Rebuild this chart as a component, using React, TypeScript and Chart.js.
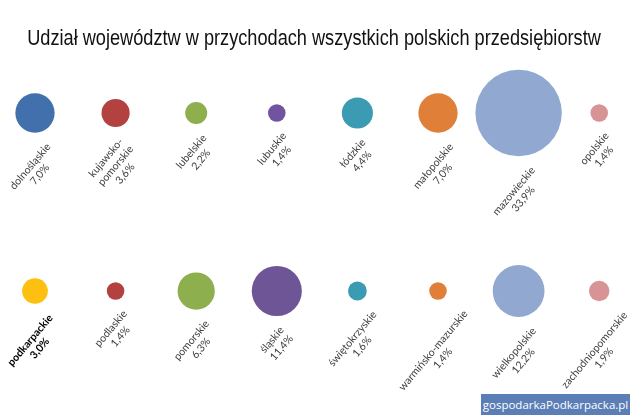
import React, { useEffect, useRef } from "react";
import { Chart, registerables } from "chart.js";

Chart.register(...registerables);

const TITLE = "Udział województw w przychodach wszystkich polskich przedsiębiorstw";

const regions: string[] = [
  "dolnośląskie",
  "kujawsko-\npomorskie",
  "lubelskie",
  "lubuskie",
  "łódzkie",
  "małopolskie",
  "mazowieckie",
  "opolskie",
  "podkarpackie",
  "podlaskie",
  "pomorskie",
  "śląskie",
  "świętokrzyskie",
  "warmińsko-mazurskie",
  "wielkopolskie",
  "zachodniopomorskie",
];

const shares: number[] = [7.0, 3.6, 2.2, 1.4, 4.4, 7.0, 33.9, 1.4, 3.0, 1.4, 6.3, 11.4, 1.6, 1.4, 12.2, 1.9];

const colors: string[] = [
  "#4170AC", "#B3413F", "#8DAF4E", "#7054A0", "#3A9BB2", "#E07F38", "#91A8D1", "#D89494",
  "#FDBF10", "#B3413F", "#8DAF4E", "#6E5596", "#3A9BB2", "#E07F38", "#91A8D1", "#D89494",
];

const highlighted = "podkarpackie";
const PER_ROW = 8;
const SIZE_K = 7.42;
const X_MIN = -0.434;
const X_MAX = 7.382;
const Y_MIN = -0.6966;
const Y_MAX = 1.3517;

const fmtShare = (v: number) => v.toFixed(1).replace(".", ",") + "%";

const titlePlugin = {
  id: "narrowTitle",
  afterDraw(chart: any) {
    const ctx = chart.ctx as CanvasRenderingContext2D;
    ctx.save();
    ctx.font = "22px 'Liberation Sans', Arial, sans-serif";
    ctx.fillStyle = "#111111";
    ctx.textAlign = "center";
    ctx.textBaseline = "alphabetic";
    const sx = 0.826;
    ctx.translate(chart.width / 2 - 1, 45);
    ctx.scale(sx, 1);
    ctx.fillText(TITLE, 0, 0);
    ctx.restore();
  },
};

const labelPlugin = {
  id: "bubbleLabels",
  afterDatasetsDraw(chart: any) {
    const ctx = chart.ctx as CanvasRenderingContext2D;
    const meta = chart.getDatasetMeta(0);
    const ang = (50 * Math.PI) / 180;
    const lh = 12.5;
    const gap = 8;
    meta.data.forEach((el: any, i: number) => {
      const lines = [...regions[i].split("\n"), fmtShare(shares[i])];
      const bold = regions[i] === highlighted;
      ctx.save();
      ctx.font = `${bold ? "bold " : ""}10.6px Lato`;
      const w = Math.max(...lines.map((l) => ctx.measureText(l).width));
      const h = lines.length * lh;
      const bh = w * Math.sin(ang) + h * Math.cos(ang);
      const r = el.options.radius;
      const cx = el.x;
      const cy = el.y + r + gap + bh / 2;
      ctx.translate(cx, cy);
      ctx.rotate(-ang);
      ctx.textAlign = "center";
      ctx.textBaseline = "middle";
      ctx.fillStyle = bold ? "#000000" : "#404040";
      lines.forEach((l, k) => ctx.fillText(l, 0, (k - (lines.length - 1) / 2) * lh));
      ctx.restore();
    });
  },
};

export default function App() {
  const ref = useRef<HTMLCanvasElement | null>(null);

  useEffect(() => {
    document.body.style.margin = "0";
    if (!ref.current) return;
    const data = shares.map((v, i) => ({
      x: i % PER_ROW,
      y: i < PER_ROW ? 1 : 0,
      r: SIZE_K * Math.sqrt(v),
    }));
    const chart = new Chart(ref.current, {
      type: "bubble",
      data: {
        datasets: [
          {
            data,
            backgroundColor: colors,
            borderColor: colors,
            borderWidth: 0,
            clip: false as any,
          },
        ],
      },
      options: {
        responsive: false,
        animation: false,
        events: [],
        layout: { autoPadding: false, padding: { top: 50.4, left: 0, right: 0, bottom: 0 } },
        scales: {
          x: { type: "linear", display: false, bounds: "data", min: X_MIN, max: X_MAX },
          y: { type: "linear", display: false, bounds: "data", min: Y_MIN, max: Y_MAX },
        },
        plugins: {
          legend: { display: false },
          tooltip: { enabled: false },
          title: { display: false },
        },
      },
      plugins: [labelPlugin, titlePlugin],
    });
    return () => chart.destroy();
  }, []);

  return (
    <div style={{ position: "relative", width: 630, height: 415, background: "#fff" }}>
      <canvas ref={ref} width={630} height={415} style={{ display: "block" }} />
      <div
        style={{
          position: "absolute",
          left: 481,
          top: 394,
          width: 149,
          height: 21,
          background: "#5B7EB7",
          color: "#fff",
          fontFamily: "'Open Sans', sans-serif",
          fontSize: 11.5,
          lineHeight: "21px",
          textAlign: "center",
        }}
      >
        gospodarkaPodkarpacka.pl
      </div>
    </div>
  );
}
